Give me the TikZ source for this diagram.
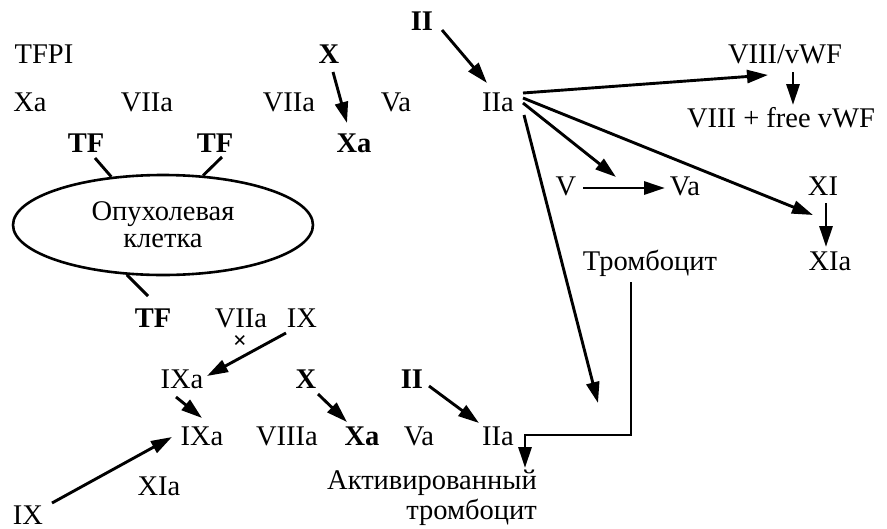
\documentclass[tikz,border=0pt]{standalone}
\usepackage{fontspec}
\setmainfont{Liberation Serif}
\usetikzlibrary{arrows.meta,shapes.geometric}
\tikzset{
  lbl/.style={anchor=base,inner sep=0pt,font=\fontsize{28.5}{30}\selectfont},
  blbl/.style={lbl,font=\fontsize{28.5}{30}\selectfont\bfseries},
  conn/.style={line width=2.9pt},
  arr/.style={conn,-{Triangle[length=21pt,width=13pt]}},
}
\begin{document}
\begin{tikzpicture}[x=1pt,y=-1pt]
\useasboundingbox[fill=white] (0,0) rectangle (887,528);
% top part
\node[lbl]  (tfpi)  at (44,63)  {TFPI};
\node[blbl] (xT)    at (329,63) {X};
\node[blbl] (iiT)   at (422,30) {II};
\node[lbl]  (xa1)   at (30,111) {Xa};
\node[lbl]  (viia1) at (147,111) {VIIa};
\node[lbl]  (viia2) at (289,111) {VIIa};
\node[lbl]  (vaT)   at (396,111) {Va};
\node[lbl]  (iiaT)  at (498,111) {IIa};
\node[lbl]  (vwf)   at (785,63) {VIII/vWF};
\node[lbl]  (vfree) at (781,127) {VIII + free vWF};
\node[blbl] (tf1)   at (86,152) {TF};
\node[blbl] (tf2)   at (215,152) {TF};
\node[blbl] (xa2)   at (354,152) {Xa};
\node[draw,ellipse,line width=2.6pt,minimum width=300pt,minimum height=100pt,inner sep=0pt,
      align=center,font=\fontsize{28.5}{27}\selectfont] (cell) at (163,225) {Опухолевая\\клетка};
% right part
\node[lbl] (v)     at (566,195) {V};
\node[lbl] (va2)   at (685,195) {Va};
\node[lbl] (xi)    at (823,195) {XI};
\node[lbl] (xia2)  at (830,270) {XIa};
\node[lbl] (tromb) at (650,270) {Тромбоцит};
% bottom part
\node[blbl] (tf3)   at (153,327) {TF};
\node[lbl]  (viia3) at (241,327) {VIIa};
\node[lbl]  (ix1)   at (302,327) {IX};
\node[inner sep=0pt,font=\fontsize{24}{24}\selectfont\bfseries] (cross) at (240,342) {×};
\node[lbl]  (ixa1)  at (182,388) {IXa};
\node[blbl] (xB)    at (306,388) {X};
\node[blbl] (iiB)   at (412,388) {II};
\node[lbl]  (ixa2)  at (202,445) {IXa};
\node[lbl]  (viiia) at (287,445) {VIIIa};
\node[blbl] (xa3)   at (362,445) {Xa};
\node[lbl]  (vaB)   at (419,445) {Va};
\node[lbl]  (iiaB)  at (498,445) {IIa};
\node[lbl]  (ix2)   at (28,524) {IX};
\node[lbl]  (xia1)  at (159,495) {XIa};
\node[anchor=north east,inner sep=0pt,align=right,font=\fontsize{28.5}{30}\selectfont] (akt) at (537,470) {Активированный\\тромбоцит};
% free ends
\coordinate (eV)  at (616,177);
\coordinate (eXI) at (813,215);
\coordinate (eP)  at (598,403);
% connectors
\draw[arr] ([shift={(4,9)}]xT.base) -- ([shift={(-7,-29)}]xa2.base);
\draw[arr] ([shift={(20,0)}]iiT.base) -- ([shift={(-11,-28)}]iiaT.base);
\draw[arr] ([shift={(25,-18)}]iiaT.base) -- ([shift={(-17,12)}]vwf.base);
\draw[arr] ([shift={(8,9)}]vwf.base) -- ([shift={(12,-22)}]vfree.base);
\draw[arr] ([shift={(25,-8)}]iiaT.base) -- (eV);
\draw[arr] ([shift={(25,-13)}]iiaT.base) -- (eXI);
\draw[arr] ([shift={(26,4)}]iiaT.base) -- (eP);
\draw[arr] ([shift={(17,-7)}]v.base) -- ([shift={(-20,-7)}]va2.base);
\draw[arr] ([shift={(3,8)}]xi.base) -- ([shift={(-4,-23)}]xia2.base);
\draw[conn] ([shift={(9,6)}]tf1.base) -- (cell.137);
\draw[conn] ([shift={(7,5)}]tf2.base) -- (cell.51);
\draw[conn] ([shift={(-5,-31)}]tf3.base) -- (cell.234);
\draw[arr] ([shift={(-16,6)}]ix1.base) -- ([shift={(25,-12)}]ixa1.base);
\draw[arr] ([shift={(-6,9)}]ixa1.base) -- ([shift={(0,-27)}]ixa2.base);
\draw[arr] ([shift={(12,6)}]xB.base) -- ([shift={(-15,-23)}]xa3.base);
\draw[arr] ([shift={(17,-2)}]iiB.base) -- ([shift={(-19,-22)}]iiaB.base);
\draw[arr] ([shift={(24,-21)}]ix2.base) -- ([shift={(-30,-8)}]ixa2.base);
\draw[arr,line join=miter]
  ([shift={(-19,12)}]tromb.base) -- ++(0,153) -- ++(-106,0) -- ([xshift=-12pt,yshift=2pt]akt.north east);
\end{tikzpicture}
\end{document}
